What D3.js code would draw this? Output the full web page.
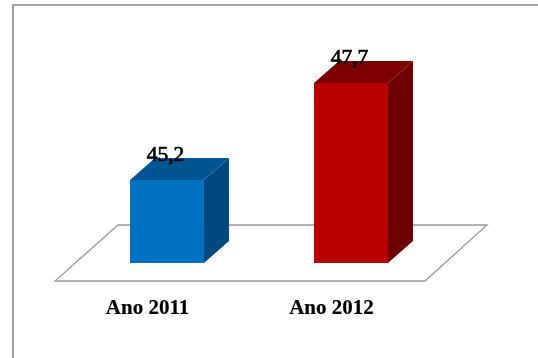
<!DOCTYPE html>
<html><head><meta charset="utf-8">
<script src="https://cdn.jsdelivr.net/npm/d3@7/dist/d3.min.js"></script>
<style>html,body{margin:0;padding:0;background:#fff;overflow:hidden}svg{display:block}</style>
</head><body><svg id="c" width="538" height="358"></svg>
<script>
const categories = ["Ano 2011", "Ano 2012"];
const values = [45.2, 47.7];
const valueLabels = ["45,2", "47,7"];
const frontColors = ["#0070c0", "#b90000"];
const topColors = ["#005592", "#7c0000"];
const sideColors = ["#004a80", "#6e0000"];

const svg = d3.select("#c");
const defs = svg.append("defs");
defs.append("filter").attr("id","soft").append("feGaussianBlur").attr("stdDeviation",0.45);
const root = svg.append("g").attr("filter","url(#soft)");

const dx = 25, dy = -22, base = 263;
const x = d3.scaleBand().domain(categories).range([75,443]).paddingInner(0.598).paddingOuter(0.299);
const y = d3.scaleLinear().domain([43.06,47.7]).range([base,83]);

// frame
root.append("path").attr("d","M13,358V5H538").attr("fill","none").attr("stroke","#858585").attr("stroke-width",1.6);
// floor
root.append("path").attr("d","M55,281H425L487,225H118Z").attr("fill","#fff").attr("stroke","#9a9a9a").attr("stroke-width",1.3);

const bars = root.selectAll("g.bar").data(categories).join("g").attr("class","bar");
const path = d3.path;
bars.append("path").attr("fill",(d,i)=>sideColors[i]).attr("d",(d,i)=>{
  const p=path(), r=x(d)+x.bandwidth(), t=y(values[i]);
  p.moveTo(r,t);p.lineTo(r+dx,t+dy);p.lineTo(r+dx,base+dy);p.lineTo(r,base);p.closePath();return p.toString();});
bars.append("path").attr("fill",(d,i)=>topColors[i]).attr("d",(d,i)=>{
  const p=path(), l=x(d), r=l+x.bandwidth(), t=y(values[i]);
  p.moveTo(l,t);p.lineTo(r,t);p.lineTo(r+dx,t+dy);p.lineTo(l+dx,t+dy);p.closePath();return p.toString();});
bars.append("rect").attr("x",d=>x(d)).attr("width",x.bandwidth())
  .attr("y",(d,i)=>y(values[i])).attr("height",(d,i)=>base-y(values[i])).attr("fill",(d,i)=>frontColors[i]);

root.selectAll("text.val").data(categories).join("text").attr("class","val")
  .attr("x",d=>x(d)+x.bandwidth()/2-1.5).attr("y",(d,i)=>y(values[i])-19)
  .attr("text-anchor","middle").attr("font-family","Liberation Serif").attr("font-size",21.5)
  .attr("fill","#000").attr("stroke","#000").attr("stroke-width",0.7)
  .text((d,i)=>valueLabels[i]);

const axis = root.append("g").attr("transform","translate(-19.5,281)")
  .call(d3.axisBottom(x).tickSize(0).tickPadding(18));
axis.select(".domain").remove();
axis.selectAll("text").attr("font-family","Liberation Serif").attr("font-weight","bold")
  .attr("font-size",21).attr("fill","#000").attr("stroke","#000").attr("stroke-width",0.2);
</script></body></html>
